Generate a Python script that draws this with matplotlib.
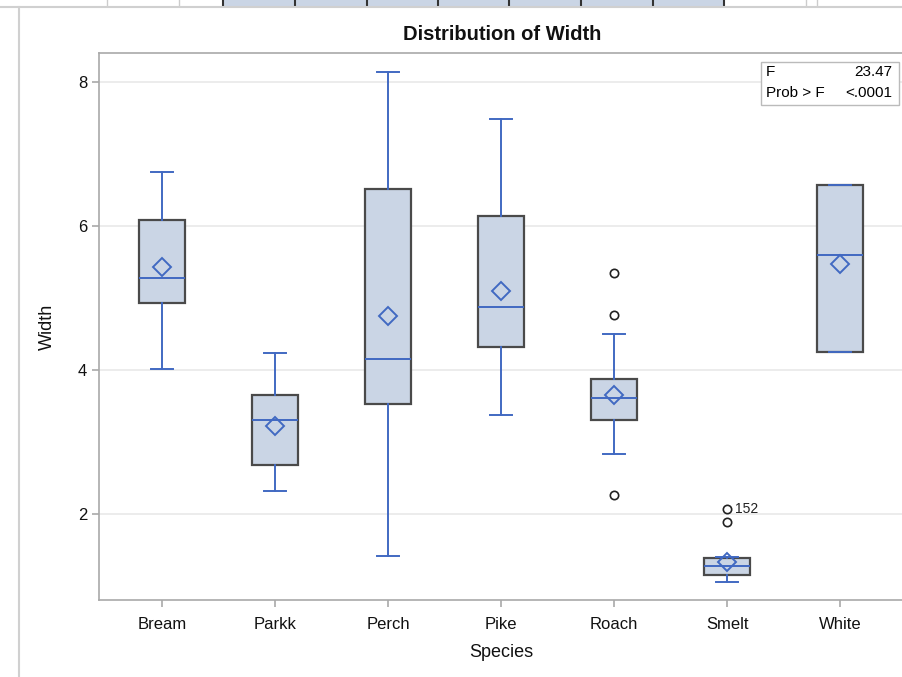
import matplotlib
matplotlib.use('Agg')
import matplotlib.pyplot as plt
from matplotlib.patches import Rectangle
from matplotlib.lines import Line2D

plt.rcParams['font.family'] = ['Liberation Sans', 'DejaVu Sans']

# values
species = ['Bream', 'Parkk', 'Perch', 'Pike', 'Roach', 'Smelt', 'White']
whislo = [4.02, 2.32, 1.42, 3.38, 2.83, 1.05, 4.25]
q1 = [4.93, 2.68, 3.53, 4.32, 3.30, 1.16, 4.25]
med = [5.28, 3.30, 4.15, 4.88, 3.61, 1.28, 5.60]
q3 = [6.08, 3.66, 6.51, 6.14, 3.88, 1.39, 6.57]
whishi = [6.75, 4.24, 8.14, 7.49, 4.50, 1.40, 6.57]
means = [5.43, 3.22, 4.75, 5.10, 3.66, 1.34, 5.47]
fliers = [[], [], [], [], [5.35, 4.77, 2.26], [2.07, 1.89], []]
flier_label = ('Smelt', 2.07, '152')
f_value = '23.47'
p_value = '<.0001'

blue = '#4169c2'
fill = '#cad5e5'
edge = '#4a4a4a'
frame = '#a9a9a9'

fig = plt.figure(figsize=(9.02, 6.77), dpi=100)

# cropped header strip and outer frame of the report page
strip_blue = [223, 295, 367, 438, 509, 581, 653, 724]
fig.patches.append(Rectangle((223 / 902, 1 - 6 / 677), (724 - 223) / 902, 6 / 677,
                             transform=fig.transFigure, facecolor=fill, edgecolor='none'))
for x in strip_blue:
    fig.lines.append(Line2D([x / 902] * 2, [1, 1 - 6 / 677], transform=fig.transFigure,
                            color='#333333', lw=1.5))
for x in [107, 179, 806, 817]:
    fig.lines.append(Line2D([x / 902] * 2, [1, 1 - 6 / 677], transform=fig.transFigure,
                            color='#cccccc', lw=1))
fig.lines.append(Line2D([0, 1], [1 - 6.5 / 677] * 2, transform=fig.transFigure,
                        color='#d0d0d0', lw=1.5))
fig.lines.append(Line2D([19 / 902] * 2, [0, 1 - 6.5 / 677], transform=fig.transFigure,
                        color='#d0d0d0', lw=1.5))

ax = fig.add_axes([99 / 902, 1 - 600 / 677, 804 / 902, 547 / 677])

stats = []
for i, name in enumerate(species):
    stats.append(dict(label=name, whislo=whislo[i], q1=q1[i], med=med[i], q3=q3[i],
                      whishi=whishi[i], mean=means[i], fliers=fliers[i]))

ax.bxp(stats, positions=range(len(species)), widths=0.41, patch_artist=True,
       showmeans=True, showfliers=True,
       boxprops=dict(facecolor=fill, edgecolor=edge, linewidth=1.6),
       medianprops=dict(color=blue, linewidth=1.4),
       whiskerprops=dict(color=blue, linewidth=1.4),
       capprops=dict(color=blue, linewidth=1.4),
       capwidths=0.2,
       meanprops=dict(marker='D', markerfacecolor='none', markeredgecolor=blue,
                      markersize=9.5, markeredgewidth=1.4),
       flierprops=dict(marker='o', markerfacecolor='none', markeredgecolor='#222222',
                       markersize=6, markeredgewidth=1.2),
       zorder=3)

ax.annotate(flier_label[2], (species.index(flier_label[0]), flier_label[1]),
            xytext=(6, 0), textcoords='offset points', ha='left', va='center',
            fontsize=10, color='#222222')

ax.set_xlim(-0.557, 6.557)
ax.set_ylim(0.806, 8.403)
ax.set_yticks([2, 4, 6, 8])
ax.set_xticks(range(len(species)))
ax.set_xticklabels(species)
ax.yaxis.grid(True, color='#e9e9e9', linewidth=1.2)
ax.set_axisbelow(True)
for s in ax.spines.values():
    s.set_color(frame)
    s.set_linewidth(1.2)
ax.tick_params(axis='both', colors=frame, labelcolor='#111111', labelsize=12,
               length=5, width=1.2)
ax.tick_params(axis='x', pad=7)
ax.set_xlabel('Species', fontsize=13, labelpad=9, color='#111111')
ax.set_ylabel('Width', fontsize=13, labelpad=16, color='#111111')

fig.text(502 / 902, 1 - 34 / 677, 'Distribution of Width', ha='center', va='center',
         fontsize=14.5, fontweight='bold', color='#111111')

# F statistic inset
fig.patches.append(Rectangle((761 / 902, 1 - 105 / 677), 138 / 902, 43 / 677,
                             transform=fig.transFigure, facecolor='white',
                             edgecolor='#bbbbbb', linewidth=1, zorder=5))
fig.text(766 / 902, 1 - 72 / 677, 'F', ha='left', va='center', fontsize=11, zorder=6)
fig.text(892 / 902, 1 - 72 / 677, f_value, ha='right', va='center', fontsize=11, zorder=6)
fig.text(766 / 902, 1 - 93 / 677, 'Prob > F', ha='left', va='center', fontsize=11, zorder=6)
fig.text(892 / 902, 1 - 93 / 677, p_value, ha='right', va='center', fontsize=11, zorder=6)

fig.savefig('out.png', dpi=100)
